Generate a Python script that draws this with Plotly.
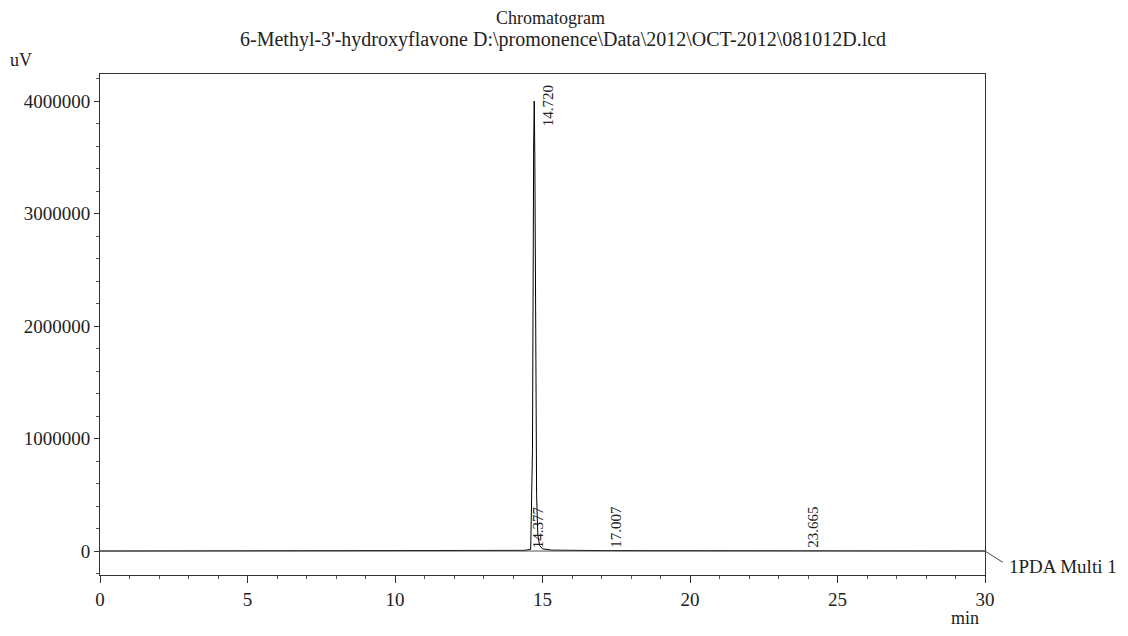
import plotly.graph_objects as go

# chromatogram trace (min, uV)
time_min = [0.0, 5.0, 10.0, 14.3, 14.377, 14.60, 14.66, 14.70, 14.72, 14.74, 14.77, 14.80, 14.84, 14.90, 15.0, 15.3, 17.007, 20.0, 23.665, 25.0, 30.0]
signal_uv = [0, 0, 0, 0, 6000, 15000, 900000, 3600000, 4000000, 3500000, 1800000, 500000, 150000, 50000, 20000, 8000, 4000, 2000, 3000, 1000, 0]

peak_times = [14.377, 14.720, 17.007, 23.665]
peak_labels = ["14.377", "14.720", "17.007", "23.665"]
peak_heights = [6000, 4000000, 4000, 3000]

FONT = "Liberation Serif"
TXT = "#222"

fig = go.Figure()
fig.add_trace(go.Scatter(x=time_min, y=signal_uv, mode="lines",
                         line=dict(color="black", width=1), showlegend=False,
                         hoverinfo="skip"))
fig.add_shape(type="line", xref="x", yref="y", x0=0, x1=30, y0=0, y1=0,
              line=dict(color="#555", width=1))

for t, lab, h in zip(peak_times, peak_labels, peak_heights):
    if h > 1000000:
        fig.add_annotation(x=t, y=h, xref="x", yref="y", text=lab, showarrow=False,
                           textangle=-90, xshift=14, yanchor="middle", yshift=-5,
                           font=dict(family=FONT, size=15, color=TXT))
    else:
        fig.add_annotation(x=t, y=0, xref="x", yref="y", text=lab, showarrow=False,
                           textangle=-90, xshift=14, yanchor="bottom", yshift=1,
                           font=dict(family=FONT, size=15, color=TXT))

fig.add_annotation(x=1.0, y=0, xref="paper", yref="y", text="1PDA Multi 1",
                   showarrow=False, xanchor="left", yanchor="middle", xshift=22, yshift=-15,
                   font=dict(family=FONT, size=19, color=TXT))
fig.add_shape(type="line", xref="paper", yref="y", x0=1.0, x1=1.02, y0=0, y1=-100000,
              line=dict(color="#444", width=1))
fig.add_annotation(x=0, y=1, xref="paper", yref="paper", text="uV", showarrow=False,
                   xanchor="left", yanchor="bottom", xshift=-92, yshift=2,
                   font=dict(family=FONT, size=18, color=TXT))
fig.add_annotation(x=1, y=0, xref="paper", yref="paper", text="min", showarrow=False,
                   xanchor="center", yanchor="top", xshift=-20, yshift=-31,
                   font=dict(family=FONT, size=18, color=TXT))
fig.add_annotation(x=0.5, y=1, xref="paper", yref="paper", text="Chromatogram",
                   showarrow=False, xanchor="center", yanchor="middle", xshift=8, yshift=56,
                   font=dict(family=FONT, size=18, color=TXT))
fig.add_annotation(x=0.5, y=1, xref="paper", yref="paper",
                   text="6-Methyl-3'-hydroxyflavone D:\\promonence\\Data\\2012\\OCT-2012\\081012D.lcd",
                   showarrow=False, xanchor="center", yanchor="middle", xshift=20, yshift=35,
                   font=dict(family=FONT, size=20, color=TXT))

fig.update_layout(
    width=1112, height=620,
    paper_bgcolor="white", plot_bgcolor="white",
    margin=dict(l=92, r=135, t=66, b=53),
    font=dict(family=FONT, size=19, color=TXT),
)
fig.update_xaxes(range=[0, 30], dtick=5, tick0=0, showgrid=False, zeroline=False,
                 showline=True, linecolor="#333", linewidth=1, mirror=True,
                 ticks="outside", ticklen=7, tickcolor="#333",
                 minor=dict(dtick=1, ticks="outside", ticklen=3, tickcolor="#555"),
                 tickfont=dict(family=FONT, size=19))
fig.update_yaxes(range=[-213000, 4240000], dtick=1000000, tick0=0, showgrid=False, zeroline=False,
                 showline=True, linecolor="#333", linewidth=1, mirror=True,
                 ticks="outside", ticklen=5, tickcolor="#333", tickformat="d",
                 minor=dict(dtick=200000, ticks="outside", ticklen=3, tickcolor="#555"),
                 tickfont=dict(family=FONT, size=19))

fig.write_html("out.html")
